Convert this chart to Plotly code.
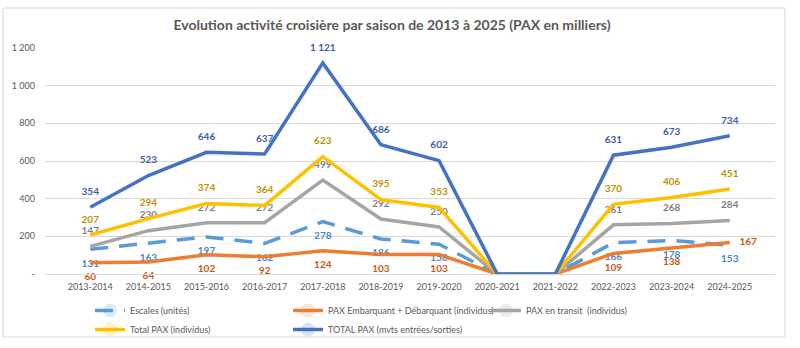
import plotly.graph_objects as go

seasons = ["2013-2014", "2014-2015", "2015-2016", "2016-2017", "2017-2018", "2018-2019",
           "2019-2020", "2020-2021", "2021-2022", "2022-2023", "2023-2024", "2024-2025"]
escales = [131, 163, 197, 162, 278, 186, 158, 0, 0, 166, 178, 153]
pax_emb = [60, 64, 102, 92, 124, 103, 103, 0, 0, 109, 138, 167]
pax_transit = [147, 230, 272, 272, 499, 292, 250, 0, 0, 261, 268, 284]
total_pax = [207, 294, 374, 364, 623, 395, 353, 0, 0, 370, 406, 451]
total_mvts = [354, 523, 646, 637, 1121, 686, 602, 0, 0, 631, 673, 734]

y_ticks = [0, 200, 400, 600, 800, 1000, 1200]
y_ticktext = ["-", "200", "400", "600", "800", "1 000", "1 200"]

FONT = "Lato"


def fmt(v):
    if v == 0:
        return ""
    return f"{v:,}".replace(",", " ")


series = [
    ("Escales (unités)", escales, "#5B9BD5", "#4A86C5", "dash", "bottom center"),
    ("PAX Embarquant + Débarquant (individus)", pax_emb, "#ED7D31", "#C55A11", "solid", "bottom center"),
    ("PAX en transit  (individus)", pax_transit, "#A5A5A5", "#7F7F7F", "solid", "top center"),
    ("Total PAX (individus)", total_pax, "#FFC000", "#BF9000", "solid", "top center"),
    ("TOTAL PAX (mvts entrées/sorties)", total_mvts, "#4472C4", "#3F5DAA", "solid", "top center"),
]

fig = go.Figure()
for name, vals, color, tcolor, dash, pos in series:
    positions = [pos] * len(vals)
    if name.startswith("PAX Embarquant"):
        positions[-1] = "middle right"
    fig.add_trace(go.Scatter(
        x=seasons, y=vals, name=name, mode="lines+markers+text",
        line=dict(color=color, width=3.5, dash="18px,11px" if dash == "dash" else "solid"),
        marker=dict(size=14, opacity=0, color=color),
        text=[fmt(v) for v in vals], textposition=positions,
        textfont=dict(family=FONT, size=10, color=tcolor, weight="bold"),
        cliponaxis=False,
    ))

L, R, T, B = 45, 25, 48, 74
W, H = 800, 348
pw, ph = W - L - R, H - T - B

fig.update_layout(
    width=W, height=H,
    margin=dict(l=L, r=R, t=T, b=B, autoexpand=False),
    paper_bgcolor="white", plot_bgcolor="white",
    font=dict(family=FONT, size=9, color="#595959"),
    title=dict(text="<b>Evolution activité croisière par saison de 2013 à 2025 (PAX en milliers)</b>",
               x=392 / W, xanchor="center", y=1 - 25 / H, yanchor="middle",
               font=dict(family=FONT, size=14, color="#595959")),
    xaxis=dict(type="category", showgrid=False, showline=True, linecolor="#D9D9D9", linewidth=1,
               ticks="", ticklabelstandoff=4, tickfont=dict(size=9, color="#595959")),
    yaxis=dict(range=[0, 1200], tickvals=y_ticks, ticktext=y_ticktext, showgrid=True,
               gridcolor="#D9D9D9", gridwidth=1, zeroline=False, ticks="", ticklabelstandoff=9,
               tickfont=dict(size=9, color="#595959")),
    legend=dict(orientation="h", x=(90 - L) / pw, xanchor="left", y=-(296 - 274) / ph, yanchor="top",
                entrywidth=153, entrywidthmode="pixels", itemwidth=30,
                font=dict(family=FONT, size=9, color="#595959"), tracegroupgap=0,
                bgcolor="rgba(0,0,0,0)"),
    showlegend=True,
)

fig.add_shape(type="rect", xref="paper", yref="paper",
              x0=(3 - L) / pw, x1=(785 - L) / pw, y0=(274 - 337) / ph, y1=(274 - 8) / ph,
              line=dict(color="#D9D9D9", width=1), fillcolor="rgba(0,0,0,0)", layer="below")

fig.write_html("out.html")
